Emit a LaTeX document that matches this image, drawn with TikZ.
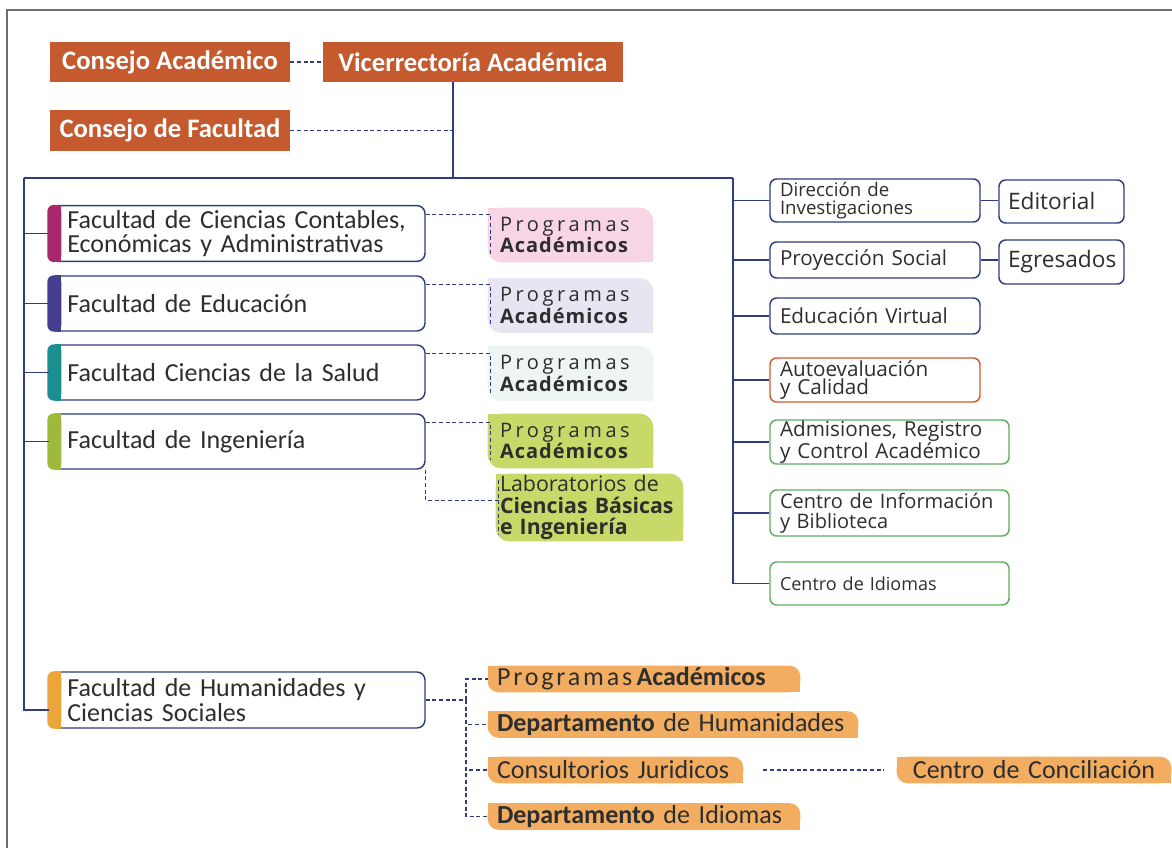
\documentclass[tikz,border=0pt]{standalone}
\usepackage{fontspec}
\setmainfont{Carlito}
\newfontfamily\osans{Open Sans}
\newfontfamily\osanssp{Open Sans}[LetterSpace=18]
\newfontfamily\osansb{Open Sans}[LetterSpace=5]
\newfontfamily\carlsp{Carlito}[LetterSpace=11]
\usetikzlibrary{positioning,backgrounds,calc}
\hyphenpenalty=10000
\exhyphenpenalty=10000
\definecolor{brick}{HTML}{C55A2F}
\definecolor{navy}{HTML}{2F3C7E}
\definecolor{ink}{HTML}{2E2E2E}
\definecolor{framegray}{HTML}{6E6E6E}
\definecolor{barmag}{HTML}{A8286C}
\definecolor{barpur}{HTML}{433E8E}
\definecolor{barteal}{HTML}{1A8F8F}
\definecolor{barlime}{HTML}{9DBA3C}
\definecolor{barorange}{HTML}{EBA53B}
\definecolor{fillpink}{HTML}{F7D4E6}
\definecolor{filllav}{HTML}{E7E5F1}
\definecolor{fillmint}{HTML}{EEF5F4}
\definecolor{filllime}{HTML}{C8D869}
\definecolor{fillorange}{HTML}{F2AD60}
\definecolor{autored}{HTML}{D4582C}
\definecolor{unitgreen}{HTML}{5FAE5E}
% leaf shaped fill behind a node: sharp top left and bottom right
\newcommand{\leaf}[3]{%
  \fill[#2, rounded corners=#3] (#1.south west) rectangle (#1.north east);
  \fill[#2] (#1.north west) rectangle ([xshift=#3,yshift=-#3]#1.north west);
  \fill[#2] (#1.south east) rectangle ([xshift=-#3,yshift=#3]#1.south east);}
% coloured bar on the left of a faculty box
\newcommand{\facbar}[2]{%
  \fill[#2, rounded corners=5pt] ([xshift=-1.5pt]#1.south west) rectangle ([xshift=9pt]#1.north west);
  \fill[#2] ([xshift=4pt]#1.south west) rectangle ([xshift=9pt]#1.north west);}

\begin{document}
\begin{tikzpicture}[x=0.75pt, y=-0.75pt,
    topbox/.style={fill=brick, text=white, inner sep=0pt, minimum height=30pt,
      font=\bfseries\fontsize{20}{22}\selectfont},
    facbox/.style={draw=navy, line width=1.1pt, rounded corners=6pt, fill=white,
      text=ink, inner xsep=13pt, text width=255.25pt, align=left,
      minimum height=41.25pt, font=\fontsize{19.5}{18.5}\selectfont},
    progbox/.style={text=ink, inner xsep=9pt, inner ysep=0pt, text width=105.75pt,
      align=left, minimum height=40.5pt, font=\osans\fontsize{15}{15}\selectfont},
    unitbox/.style={draw=navy, line width=1.1pt, rounded corners=5pt, fill=white,
      text=ink, inner xsep=7.5pt, inner ysep=0pt, text width=142.5pt, align=left,
      font=\osans\fontsize{15.5}{14}\selectfont},
    subbox/.style={unitbox, text width=80.25pt, inner xsep=6.75pt,
      font=\osans\fontsize{17}{17}\selectfont},
    orgbox/.style={text=ink, inner xsep=6.75pt, inner ysep=0pt, align=left,
      minimum height=19.5pt, font=\fontsize{19.5}{20}\selectfont},
    solidline/.style={navy, line width=1.1pt},
    dashline/.style={navy, line width=1pt, dash pattern=on 3pt off 2pt}]
\useasboundingbox (0,0) rectangle (1172,848);
\draw[framegray, line width=1.5pt] (7,848) -- (7,10) -- (1172,10);

% top level
\node[topbox, minimum width=180pt] (cacad) at (170,62) {Consejo Académico};
\node[topbox, minimum width=225pt] (vra) at (473,62) {Vicerrectoría Académica};
\node[topbox, minimum width=180pt, minimum height=30.75pt] (cfac) at (170,130.5) {Consejo de Facultad};
\coordinate (vj) at (453,178);
\coordinate (lr) at (24,178);
\coordinate (rr) at (733,178);
\draw[dashline] (cacad) -- (vra);
\draw[dashline] (cfac.east) -- (cfac.east -| vj);
\draw[solidline] (vra.south -| vj) -- (vj);
\draw[solidline] (lr) -- (rr);

% faculties
\node[facbox] (fcc) at (237.5,233.5) {Facultad de Ciencias Contables,\\Económicas y Administrativas};
\node[facbox] (fedu) at (237.5,303.5) {Facultad de Educación};
\node[facbox] (fsal) at (237.5,372.5) {Facultad Ciencias de la Salud};
\node[facbox] (fing) at (237.5,441.5) {Facultad de Ingeniería};
\node[facbox, minimum height=42pt] (fhum) at (237.5,700) {Facultad de Humanidades y\\Ciencias Sociales};
\facbar{fcc}{barmag}
\facbar{fedu}{barpur}
\facbar{fsal}{barteal}
\facbar{fing}{barlime}
\facbar{fhum}{barorange}
\draw[solidline] (lr) |- ([yshift=-7.5pt]fhum.west);
\foreach \f in {fcc,fedu,fsal,fing}
  \draw[solidline] (lr |- \f.west) -- (\f.west);

% academic programmes
\node[progbox] (pcc) at (570.5,235) {{\osanssp Programas}\\{\osansb\bfseries Académicos}};
\node[progbox] (pedu) at (570.5,305.5) {{\osanssp Programas}\\{\osansb\bfseries Académicos}};
\node[progbox] (psal) at (570.5,373.5) {{\osanssp Programas}\\{\osansb\bfseries Académicos}};
\node[progbox] (ping) at (570.5,441) {{\osanssp Programas}\\{\osansb\bfseries Académicos}};
\node[progbox, text width=134.25pt, inner xsep=3pt, minimum height=50.25pt,
  font=\osans\fontsize{16}{16}\selectfont] (labs) at (589.5,507.5)
  {Laboratorios de\\{\bfseries Ciencias Básicas}\\{\bfseries e Ingeniería}};
\begin{scope}[on background layer]
  \leaf{pcc}{fillpink}{10pt}
  \leaf{pedu}{filllav}{10pt}
  \leaf{psal}{fillmint}{10pt}
  \leaf{ping}{filllime}{10pt}
  \leaf{labs}{filllime}{10pt}
\end{scope}
\foreach \f/\p in {fcc/pcc,fedu/pedu,fsal/psal,fing/ping}
  \draw[dashline] ([yshift=-7pt]\f.north east) -| ([xshift=2pt,yshift=6pt]\p.south west);
\draw[dashline] (fing.south east) |- ([xshift=2pt,yshift=5pt]labs.west);
\draw[dashline] ([xshift=2pt,yshift=-5pt]labs.north west) -- ([xshift=2pt,yshift=5pt]labs.south west);

% units on the right
\node[unitbox, minimum height=32.25pt, font=\osans\fontsize{14}{13}\selectfont] (dinv) at (875,200.5) {Dirección de\\Investigaciones};
\node[unitbox, minimum height=27pt] (pros) at (875,260) {Proyección Social};
\node[unitbox, minimum height=27pt] (evir) at (875,316) {Educación Virtual};
\node[unitbox, draw=autored, minimum height=33pt] (auto) at (875,380) {Autoevaluación\\y Calidad};
\node[unitbox, draw=unitgreen, text width=164.25pt, minimum height=33pt] (adm) at (889.5,442) {Admisiones, Registro\\y Control Académico};
\node[unitbox, draw=unitgreen, text width=164.25pt, minimum height=34.5pt, font=\osans\fontsize{15}{15}\selectfont] (cib) at (889.5,513) {Centro de Información\\y Biblioteca};
\node[unitbox, draw=unitgreen, text width=164.25pt, minimum height=32.25pt, font=\osans\fontsize{13.5}{14}\selectfont] (cidi) at (889.5,583.5) {Centro de Idiomas};
\node[subbox, minimum height=32.25pt] (edit) at (1061.5,201.5) {Editorial};
\node[subbox, minimum height=33pt] (egre) at (1061.5,262) {Egresados};
\draw[solidline] (rr) |- (cidi.west);
\foreach \u in {dinv,pros,evir,auto,adm,cib}
  \draw[solidline] (rr |- \u.west) -- (\u.west);
\draw[solidline] (dinv.east) -- (dinv.east -| edit.west);
\draw[solidline] (pros.east) -- (pros.east -| egre.west);

% humanities branch
\node[orgbox, text width=220.5pt] (porg) at (644,679) {{\carlsp Programas}\,{\bfseries Académicos}};
\node[orgbox, text width=264pt] (dhum) at (673,724.5) {{\bfseries Departamento} de Humanidades};
\node[orgbox, text width=177.75pt] (cjur) at (615.5,770) {Consultorios Juridicos};
\node[orgbox, text width=192pt, align=center] (ccon) at (1034,770) {Centro de Conciliación};
\node[orgbox, text width=220.5pt] (didi) at (644,816.5) {{\bfseries Departamento} de Idiomas};
\begin{scope}[on background layer]
  \foreach \o in {porg,dhum,cjur,ccon,didi}
    {\leaf{\o}{fillorange}{8pt}}
\end{scope}
\coordinate (hb) at (466,700);
\draw[dashline] (fhum.east) -- (hb);
\foreach \o in {porg,dhum,cjur,didi}
  \draw[dashline] (hb) |- (\o.west);
\draw[dashline, shorten <=15pt, shorten >=10pt] (cjur) -- (ccon);
\end{tikzpicture}
\end{document}
